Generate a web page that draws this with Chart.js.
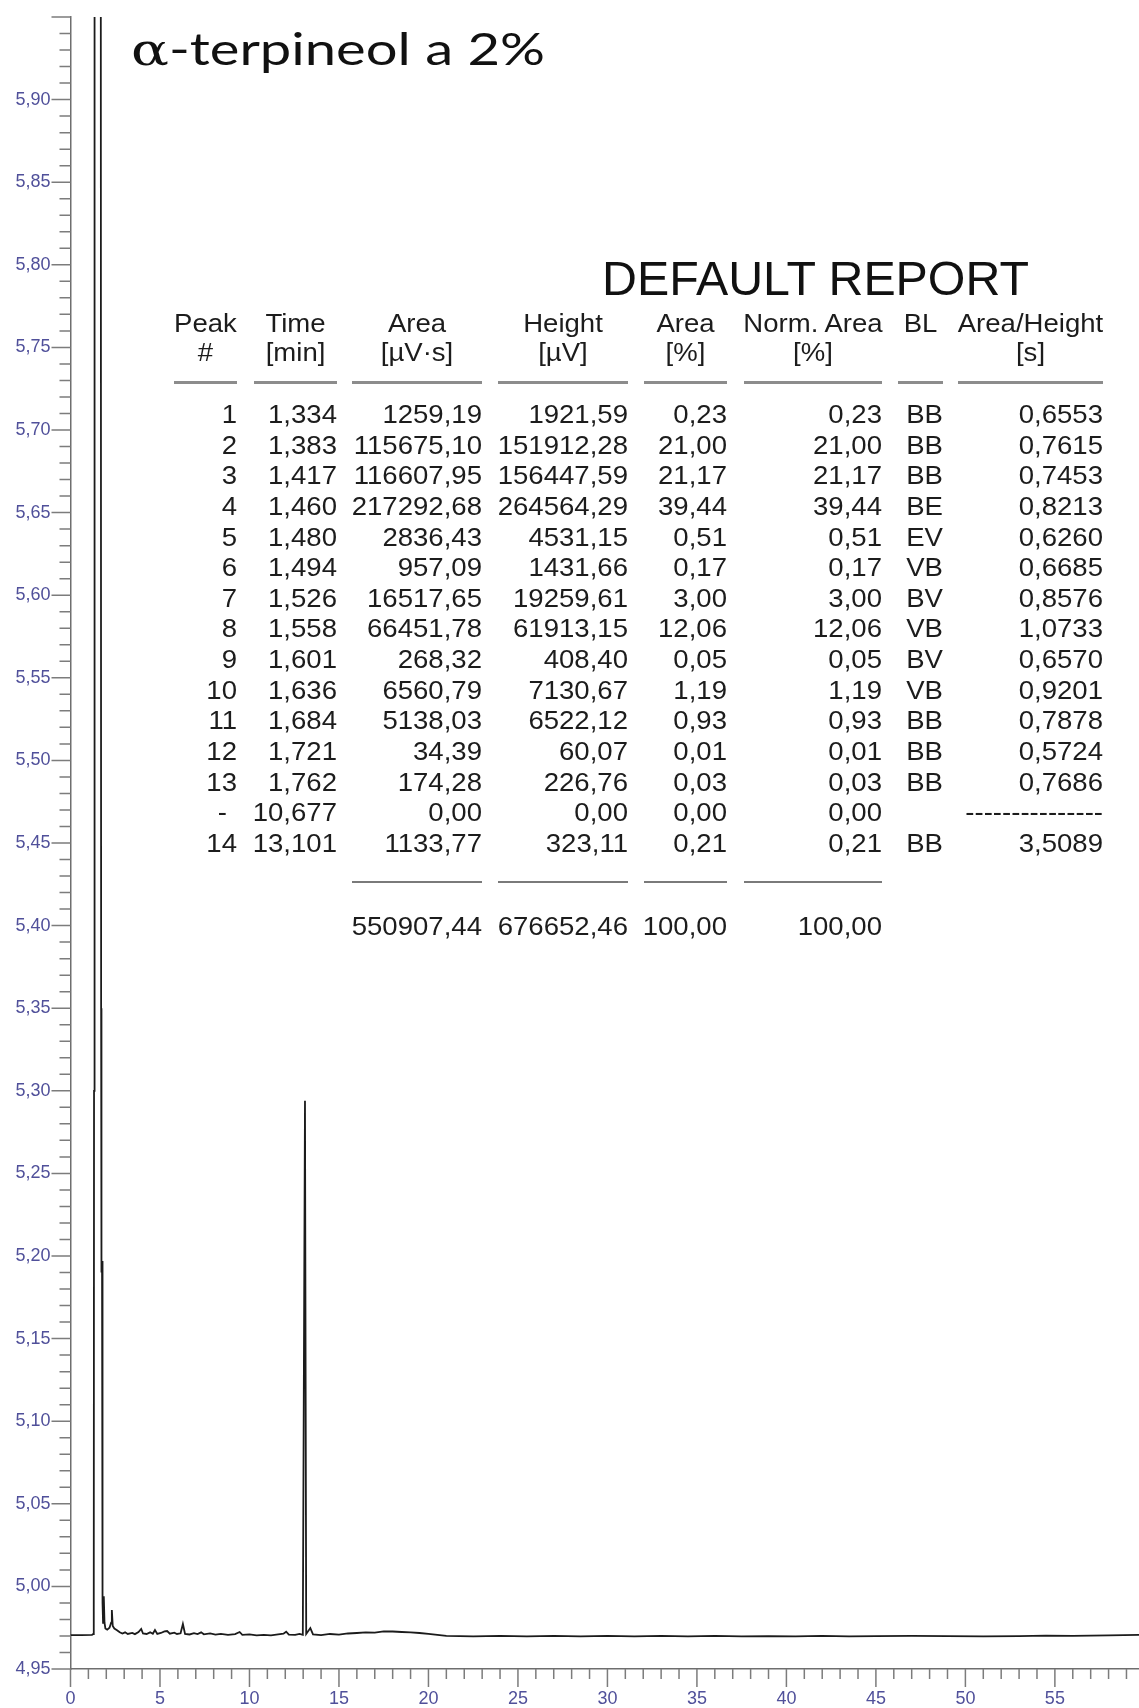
<!DOCTYPE html>
<html><head><meta charset="utf-8">
<script src="https://cdn.jsdelivr.net/npm/chart.js@4/dist/chart.umd.min.js"></script>
<style>
html,body{margin:0;padding:0;background:#fff;}
#wrap{position:relative;width:1139px;height:1708px;overflow:hidden;background:#fff;}
#c{position:absolute;left:0;top:0;}
.t{position:absolute;white-space:pre;font-family:"Liberation Sans",Arial,sans-serif;color:#1c1c1c;}
.sep{position:absolute;background:#8c8c8c;}
</style></head><body>
<div id="wrap"><canvas id="c" width="1139" height="1708"></canvas><div id="ov"></div></div>
<script>
// ---- chromatogram (time in min, signal on axis units) ----
const timeMin = [0.00,0.60,1.20,1.27,1.30,1.315,1.334,1.355,1.383,1.400,1.417,1.440,1.460,1.472,1.480,1.487,1.494,1.510,1.526,1.540,1.558,1.580,1.601,1.615,1.636,1.660,1.684,1.700,1.712,1.721,1.740,1.762,1.775,1.790,1.805,1.820,1.860,1.900,1.950,2.050,2.180,2.270,2.310,2.360,
  2.45,2.60,2.75,2.90,3.05,3.20,3.45,3.60,3.80,3.95,4.05,4.25,4.45,4.60,4.72,4.85,5.05,5.25,5.40,5.55,5.80,5.95,6.15,6.28,6.40,6.65,6.90,7.10,7.30,7.45,7.80,8.10,8.40,8.80,9.20,9.45,9.60,10.00,10.40,10.80,11.20,11.60,11.90,12.05,12.20,12.55,12.80,12.98,
  13.101,13.17,13.40,13.55,14.00,14.50,15.00,15.50,16.00,16.50,17.00,17.50,18.00,18.50,19.00,19.50,20.00,20.50,21.00,22.50,24.00,25.50,27.00,28.50,30.00,31.50,33.00,34.50,36.00,37.50,39.00,40.50,42.00,43.50,45.00,47.00,49.00,51.00,53.00,54.50,56.00,58.00,59.70];
const signal = [4.9705,4.9705,4.9706,4.9712,4.9850,5.3000,6.8900,6.2000,156.90,120.00,161.40,150.00,269.50,60.00,9.50,6.80,6.40,12.00,24.20,40.00,66.90,20.00,7.40,6.90,12.10,8.00,11.50,6.00,5.350,5.250,5.190,5.197,5.120,5.020,4.9900,4.9780,4.9940,4.9780,4.9745,4.9738,4.9750,4.9780,4.9857,4.9760,
  4.9745,4.9735,4.9722,4.9715,4.9722,4.9712,4.9718,4.9711,4.9724,4.9742,4.9715,4.9712,4.9722,4.9713,4.9736,4.9712,4.9718,4.9728,4.9730,4.9714,4.9720,4.9712,4.9716,4.9772,4.9712,4.9709,4.9717,4.9711,4.9722,4.9710,4.9715,4.9708,4.9713,4.9707,4.9711,4.9724,4.9707,4.9709,4.9704,4.9707,4.9703,4.9709,4.9714,4.9726,4.9708,4.9706,4.9712,4.9707,
  5.2940,4.9712,4.9748,4.9710,4.9705,4.9712,4.9708,4.9715,4.9718,4.9722,4.9720,4.9728,4.9727,4.9724,4.9722,4.9718,4.9712,4.9706,4.9701,4.9697,4.9701,4.9698,4.9701,4.9697,4.9700,4.9697,4.9700,4.9698,4.9701,4.9697,4.9699,4.9697,4.9700,4.9698,4.9699,4.9700,4.9699,4.9698,4.9699,4.9702,4.9701,4.9704,4.9707];

// ---- report table ----
const peakNo     = ['1','2','3','4','5','6','7','8','9','10','11','12','13','-','14'];
const peakTime   = [1.334,1.383,1.417,1.460,1.480,1.494,1.526,1.558,1.601,1.636,1.684,1.721,1.762,10.677,13.101];
const peakArea   = [1259.19,115675.10,116607.95,217292.68,2836.43,957.09,16517.65,66451.78,268.32,6560.79,5138.03,34.39,174.28,0.00,1133.77];
const peakHeight = [1921.59,151912.28,156447.59,264564.29,4531.15,1431.66,19259.61,61913.15,408.40,7130.67,6522.12,60.07,226.76,0.00,323.11];
const areaPct    = [0.23,21.00,21.17,39.44,0.51,0.17,3.00,12.06,0.05,1.19,0.93,0.01,0.03,0.00,0.21];
const normArea   = [0.23,21.00,21.17,39.44,0.51,0.17,3.00,12.06,0.05,1.19,0.93,0.01,0.03,0.00,0.21];
const baseLine   = ['BB','BB','BB','BE','EV','VB','BV','VB','BV','VB','BB','BB','BB','','BB'];
const areaHeight = [0.6553,0.7615,0.7453,0.8213,0.6260,0.6685,0.8576,1.0733,0.6570,0.9201,0.7878,0.5724,0.7686,null,3.5089];
const totals     = [550907.44,676652.46,100.00,100.00];
const headTop    = ['Peak','Time','Area','Height','Area','Norm. Area','BL','Area/Height'];
const headBottom = ['#','[min]','[µV·s]','[µV]','[%]','[%]','','[s]'];
const titleText  = 'α-terpineol a 2%';
const reportText = 'DEFAULT REPORT';

const fmt = (v,d) => v.toFixed(d).replace('.',',');

// ---- ticks plugin (major / minor tick lengths) ----
const tickPlugin = {
  id:'tickMarks',
  afterDraw(ch){
    const {ctx, chartArea:a, scales:{x,y}} = ch;
    ctx.save();
    ctx.strokeStyle = '#7c7c7c';
    ctx.lineWidth = 1.5;
    ctx.beginPath();
    y.ticks.forEach(t => {
      const k = Math.round(t.value*100);
      const py = y.getPixelForValue(t.value);
      const len = (k % 5 === 0) ? 19 : 11;
      ctx.moveTo(a.left - len, py); ctx.lineTo(a.left, py);
    });
    x.ticks.forEach(t => {
      const k = Math.round(t.value);
      if (Math.abs(t.value - k) > 1e-6) return;
      const px = x.getPixelForValue(k);
      const len = (k % 5 === 0) ? 18 : 10;
      ctx.moveTo(px, a.bottom); ctx.lineTo(px, a.bottom + len);
    });
    ctx.stroke();
    ctx.restore();
  }
};

const labelColor = '#50509a';
new Chart(document.getElementById('c'), {
  type:'line',
  data:{datasets:[{
    data: timeMin.map((t,i) => ({x:t, y:signal[i]})),
    borderColor:'#1b1b1b', borderWidth:1.8, pointRadius:0, tension:0, fill:false
  }]},
  options:{
    responsive:false, animation:false, devicePixelRatio:1,
    layout:{padding:{top:17,left:0,right:0,bottom:0}},
    plugins:{legend:{display:false}, tooltip:{enabled:false}, title:{display:false}},
    scales:{
      x:{
        type:'linear', min:0, max:59.7,
        afterFit(s){ s.height = 39; },
        ticks:{stepSize:1, autoSkip:false, includeBounds:false, maxRotation:0, minRotation:0, padding:2,
          color:labelColor, font:{family:'Liberation Sans', size:18},
          callback:v => (Math.abs(v - Math.round(v)) < 1e-6 && Math.round(v) % 5 === 0) ? String(Math.round(v)) : ''},
        grid:{drawOnChartArea:false, drawTicks:true, tickLength:17, tickColor:'rgba(0,0,0,0)'},
        border:{display:true, color:'#6e6e6e', width:1.5}
      },
      y:{
        type:'linear', min:4.95, max:5.95,
        afterFit(s){ s.width = 70.5; },
        ticks:{stepSize:0.01, autoSkip:false, includeBounds:false, padding:1,
          color:labelColor, font:{family:'Liberation Sans', size:18},
          callback:v => { const k = Math.round(v*100); return (k % 5 === 0 && k < 595) ? fmt(k/100,2) : ''; }},
        grid:{drawOnChartArea:false, drawTicks:true, tickLength:19, tickColor:'rgba(0,0,0,0)'},
        border:{display:true, color:'#6e6e6e', width:1.5}
      }
    }
  },
  plugins:[tickPlugin]
});

// ---- overlay text ----
const ov = document.getElementById('ov');
const FS = 26, LH = 30, SX = 1.06;
function cell(str, left, right, baseline, align){
  const d = document.createElement('div');
  d.className = 't';
  d.textContent = str;
  d.style.left = left + 'px';
  d.style.width = (right - left) + 'px';
  d.style.fontSize = FS + 'px';
  d.style.lineHeight = LH + 'px';
  d.style.height = LH + 'px';
  d.style.top = (baseline - (LH/2 + 0.3465*FS)) + 'px';
  d.style.textAlign = align;
  d.style.transform = 'scaleX(' + SX + ')';
  d.style.transformOrigin = align === 'center' ? 'center' : 'right';
  ov.appendChild(d);
  return d;
}
function sep(left, right, top, h, color){
  const d = document.createElement('div');
  d.className = 'sep';
  d.style.left = left + 'px'; d.style.width = (right-left) + 'px';
  d.style.top = top + 'px'; d.style.height = h + 'px';
  if (color) d.style.background = color;
  ov.appendChild(d);
}
function fitText(str, left, baseline, size, family, ascOff, target){
  const d = document.createElement('div');
  d.className = 't';
  d.style.fontFamily = family;
  d.style.fontSize = size + 'px';
  d.style.lineHeight = size + 'px';
  d.style.left = left + 'px';
  d.style.top = (baseline - (size/2 + ascOff*size)) + 'px';
  d.style.color = '#111';
  d.style.display = 'inline-block';
  d.style.transformOrigin = 'left';
  if (str.charAt(0) === 'α') {
    const s = document.createElement('span');
    s.textContent = 'α';
    s.style.fontFamily = '"DejaVu Serif", serif';
    s.style.lineHeight = '0';
    d.appendChild(s);
    d.appendChild(document.createTextNode(str.slice(1)));
  } else d.textContent = str;
  ov.appendChild(d);
  const w = d.getBoundingClientRect().width;
  d.style.transform = 'scaleX(' + (target / w) + ')';
}

fitText(titleText, 131, 65, 44, 'Lato, sans-serif', 0.387, 414);
fitText(reportText, 602, 296, 48, '"Liberation Sans", Arial, sans-serif', 0.3465, 427);

const cols = [[174,237],[254,337],[352,482],[498,628],[644,727],[744,882],[898,943],[958,1103]];
headTop.forEach((h,i) => cell(h, cols[i][0]-30, cols[i][1]+30, 332, 'center'));
headBottom.forEach((h,i) => cell(h, cols[i][0]-30, cols[i][1]+30, 361, 'center'));
cols.forEach(c => sep(c[0], c[1], 381, 3));

peakNo.forEach((p,i) => {
  const b = 423 + i*30.64;
  if (p === '-') cell(p, cols[0][0], cols[0][1]-10, b, 'right');
  else cell(p, cols[0][0], cols[0][1], b, 'right');
  cell(fmt(peakTime[i],3), cols[1][0], cols[1][1], b, 'right');
  cell(fmt(peakArea[i],2), cols[2][0], cols[2][1], b, 'right');
  cell(fmt(peakHeight[i],2), cols[3][0], cols[3][1], b, 'right');
  cell(fmt(areaPct[i],2), cols[4][0], cols[4][1], b, 'right');
  cell(fmt(normArea[i],2), cols[5][0], cols[5][1], b, 'right');
  cell(baseLine[i], cols[6][0], cols[6][1], b, 'right');
  cell(areaHeight[i] === null ? '---------------' : fmt(areaHeight[i],4), cols[7][0], cols[7][1], b, 'right');
});
[2,3,4,5].forEach(c => sep(cols[c][0], cols[c][1], 881, 2, '#7a7a7a'));
totals.forEach((v,i) => cell(fmt(v,2), cols[i+2][0], cols[i+2][1], 935, 'right'));
</script>
</body></html>
